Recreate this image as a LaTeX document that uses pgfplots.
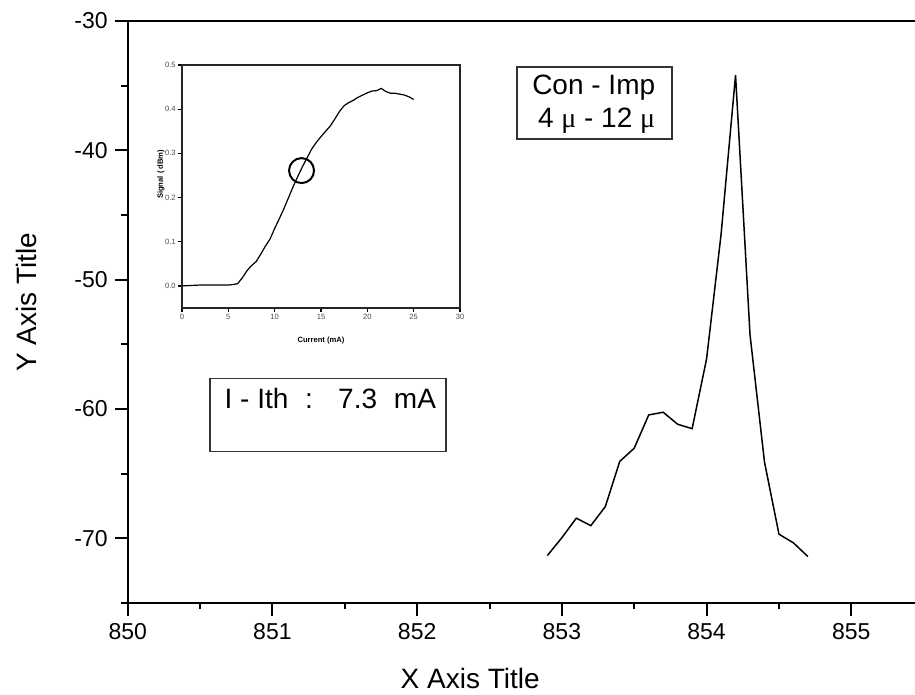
\documentclass[border=0pt]{standalone}
\usepackage{fontspec}
\setmainfont{Liberation Sans}
\newfontfamily\muf{Liberation Serif}
\usepackage{pgfplots}
\pgfplotsset{compat=1.18}
\begin{document}
\begin{tikzpicture}
\begin{axis}[
  at={(63.85pt,46pt)}, anchor=south west,
  scale only axis, width=393.65pt, height=291pt,
  xmin=850, xmax=855.44, ymin=-75, ymax=-30,
  axis lines*=left, axis line style={line width=1pt},
  xtick={850,851,852,853,854,855}, ytick={-70,-60,-50,-40,-30},
  minor xtick={850.5,851.5,852.5,853.5,854.5},
  minor ytick={-75,-65,-55,-45,-35},
  tick align=outside, major tick length=6.5pt, minor tick length=3.2pt,
  every tick/.style={black, line width=1pt},
  /pgf/number format/assume math mode=true,
  tick label style={font=\fontsize{11.5}{13}\selectfont},
  xlabel={X Axis Title}, ylabel={Y Axis Title},
  every axis x label/.style={at={(axis description cs:0.435,-0.129)}, anchor=center, font=\fontsize{14}{16}\selectfont},
  every axis y label/.style={at={(axis description cs:-0.129,0.517)}, rotate=90, anchor=center, font=\fontsize{14}{16}\selectfont},
  clip=false,
]
\addplot[black, line width=0.75pt] coordinates {
(852.9,-71.33) (853.0,-69.95) (853.1,-68.44) (853.2,-69.02) (853.3,-67.55)
(853.4,-64.05) (853.5,-63.03) (853.6,-60.46) (853.7,-60.25) (853.8,-61.18)
(853.9,-61.52) (854.0,-56.12) (854.1,-46.5) (854.2,-34.18) (854.3,-54.26)
(854.4,-64.10) (854.5,-69.68) (854.6,-70.35) (854.7,-71.41)
};
\draw[line width=1pt] (rel axis cs:0,1) -- (rel axis cs:1,1);
\draw[line width=0.75pt, black!80] (axis cs:850.569,-57.63) rectangle (axis cs:852.20,-63.28);
\node[font=\fontsize{14}{16}\selectfont] at (axis cs:851.40,-59.18) {I - Ith\hspace{0.6em}:\hspace{0.9em}7.3\hspace{0.6em}mA};
\draw[line width=0.75pt, black!80] (axis cs:852.69,-33.56) rectangle (axis cs:853.76,-39.13);
\node[font=\fontsize{14}{16}\selectfont] at (axis cs:853.22,-35.19) {Con - Imp};
\node[font=\fontsize{14}{16}\selectfont] at (axis cs:853.24,-37.74) {4 {\muf μ} - 12 {\muf μ}};
\end{axis}
\begin{axis}[
  at={(91pt,193.5pt)}, anchor=south west,
  scale only axis, width=139pt, height=121.5pt,
  xmin=0, xmax=30, ymin=-0.05, ymax=0.5,
  xtick={0,5,10,15,20,25,30}, ytick={0,0.1,0.2,0.3,0.4,0.5},
  yticklabel style={/pgf/number format/.cd, fixed, fixed zerofill, precision=1},
  xtick pos=bottom, ytick pos=left,
  tick align=outside, major tick length=2pt,
  every tick/.style={black, line width=0.6pt},
  axis line style={line width=0.7pt, black!85},
  /pgf/number format/assume math mode=true,
  tick label style={font=\fontsize{3.8}{4.5}\selectfont, black!70, inner sep=1pt},
  xlabel={Current (mA)}, ylabel={Signal ( dBm)},
  every axis x label/.style={at={(axis description cs:0.5,-0.132)}, anchor=center, font=\fontsize{3.8}{4.5}\selectfont\bfseries},
  every axis y label/.style={at={(axis description cs:-0.076,0.55)}, rotate=90, anchor=center, font=\fontsize{3.8}{4.5}\selectfont\bfseries},
]
\addplot[black, line width=0.6pt] coordinates {
(0,0) (1,0.001) (2,0.002) (3,0.002) (4,0.002) (5,0.002) (5.5,0.003) (6,0.005)
(6.5,0.018) (7,0.034) (7.5,0.046) (8,0.055) (8.5,0.072) (9,0.09) (9.5,0.106)
(10,0.13) (10.5,0.152) (11,0.175) (11.5,0.2) (12,0.225) (12.5,0.248) (13,0.27)
(13.5,0.29) (14,0.31) (14.5,0.325) (15,0.338) (15.5,0.35) (16,0.362) (16.5,0.378)
(17,0.395) (17.5,0.408) (18,0.415) (18.5,0.42) (19,0.427) (19.5,0.432) (20,0.437)
(20.5,0.441) (21,0.442) (21.5,0.447) (22,0.44) (22.5,0.436) (23,0.436) (23.5,0.434)
(24,0.432) (24.5,0.428) (25,0.422)
};
\addplot[only marks, mark=o, mark size=6.25pt, mark options={line width=1pt}] coordinates {(12.9,0.261)};
\end{axis}
\pgfresetboundingbox
\path (0,0) rectangle (457.5pt,347.5pt);
\end{tikzpicture}
\end{document}
